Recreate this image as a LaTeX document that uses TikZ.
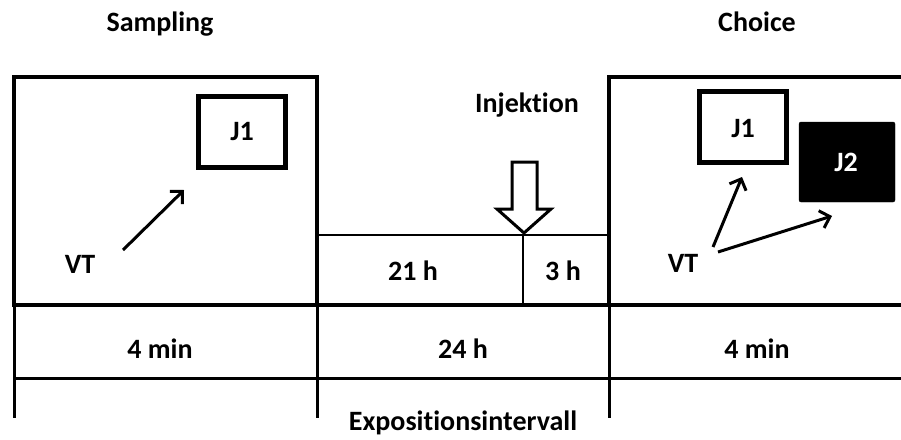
\documentclass[tikz,border=0pt]{standalone}
\usepackage{fontspec}
\setmainfont{Carlito}[Ligatures={NoCommon}]
\usetikzlibrary{arrows.meta}
\begin{document}
\begin{tikzpicture}[x=1pt,y=-1pt,
  thick line/.style={line width=4.5pt},
  mid line/.style={line width=3pt},
  thin line/.style={line width=2.5pt},
  lbl/.style={font=\bfseries\fontsize{28}{32}\selectfont, inner sep=0pt, anchor=base},
  jbox/.style={draw, line width=4.5pt, minimum width=87pt, minimum height=71pt, inner sep=0pt},
  varrow/.style={line width=3pt, -{Straight Barb[length=9pt,width=18pt,line width=3pt]}}
]
\useasboundingbox (0,0) rectangle (901,439);
% titles
\node[lbl] (samp) at (160,31) {Sampling};
\node[lbl] (choice) at (757,31) {Choice};
% main frames
\draw[thick line] (14,305) -- (14,77) -- (317,77) -- (317,305);
\draw[thick line] (901,77) -- (609,77) -- (609,305);
\draw[thick line] (12,305) -- (901,305);
\draw[mid line] (14,378) -- (901,378);
\draw[mid line] (14,305) -- (14,418);
\draw[mid line] (317,305) -- (317,418);
\draw[mid line] (609,305) -- (609,418);
% middle interval
\draw[thin line] (317,235) -- (609,235);
\draw[thin line] (523,235) -- (523,305);
\node[lbl] (h21) at (413,280) {21 h};
\node[lbl] (h3) at (563,280) {3 h};
\node[lbl] (inj) at (527,112) {Injektion};
\draw[line width=3pt, fill=white, line join=miter] (512,162) -- (537,162) -- (537,209) -- (551,209) -- (524,233) -- (497,209) -- (512,209) -- cycle;
% sampling box
\node[jbox] (j1s) at (242,132) {};
\node[lbl] (j1sl) at (242,140) {J1};
\node[lbl] (vts) at (80,273) {VT};
\coordinate (s0) at (123,250);
\coordinate (s1) at (184,190);
\draw[varrow] (s0) -- (s1);
% choice box
\node[jbox] (j1c) at (743,127) {};
\node[lbl] (j1cl) at (743,137) {J1};
\node[draw, fill=black, rounded corners=2pt, minimum width=96pt, minimum height=80pt, inner sep=0pt] (j2) at (847,162) {};
\node[lbl, text=white] (j2l) at (846,171) {J2};
\node[lbl] (vtc) at (683,272) {VT};
\coordinate (c0) at (713,247);
\coordinate (c1) at (742,177);
\coordinate (c2) at (718,252);
\coordinate (c3) at (832,216);
\draw[varrow] (c0) -- (c1);
\draw[varrow] (c2) -- (c3);
% bottom row
\node[lbl] (m1) at (160,358) {4 min};
\node[lbl] (h24) at (463,358) {24 h};
\node[lbl] (m2) at (757,358) {4 min};
\node[lbl] (expo) at (463,430) {Expositionsintervall};
\end{tikzpicture}
\end{document}
